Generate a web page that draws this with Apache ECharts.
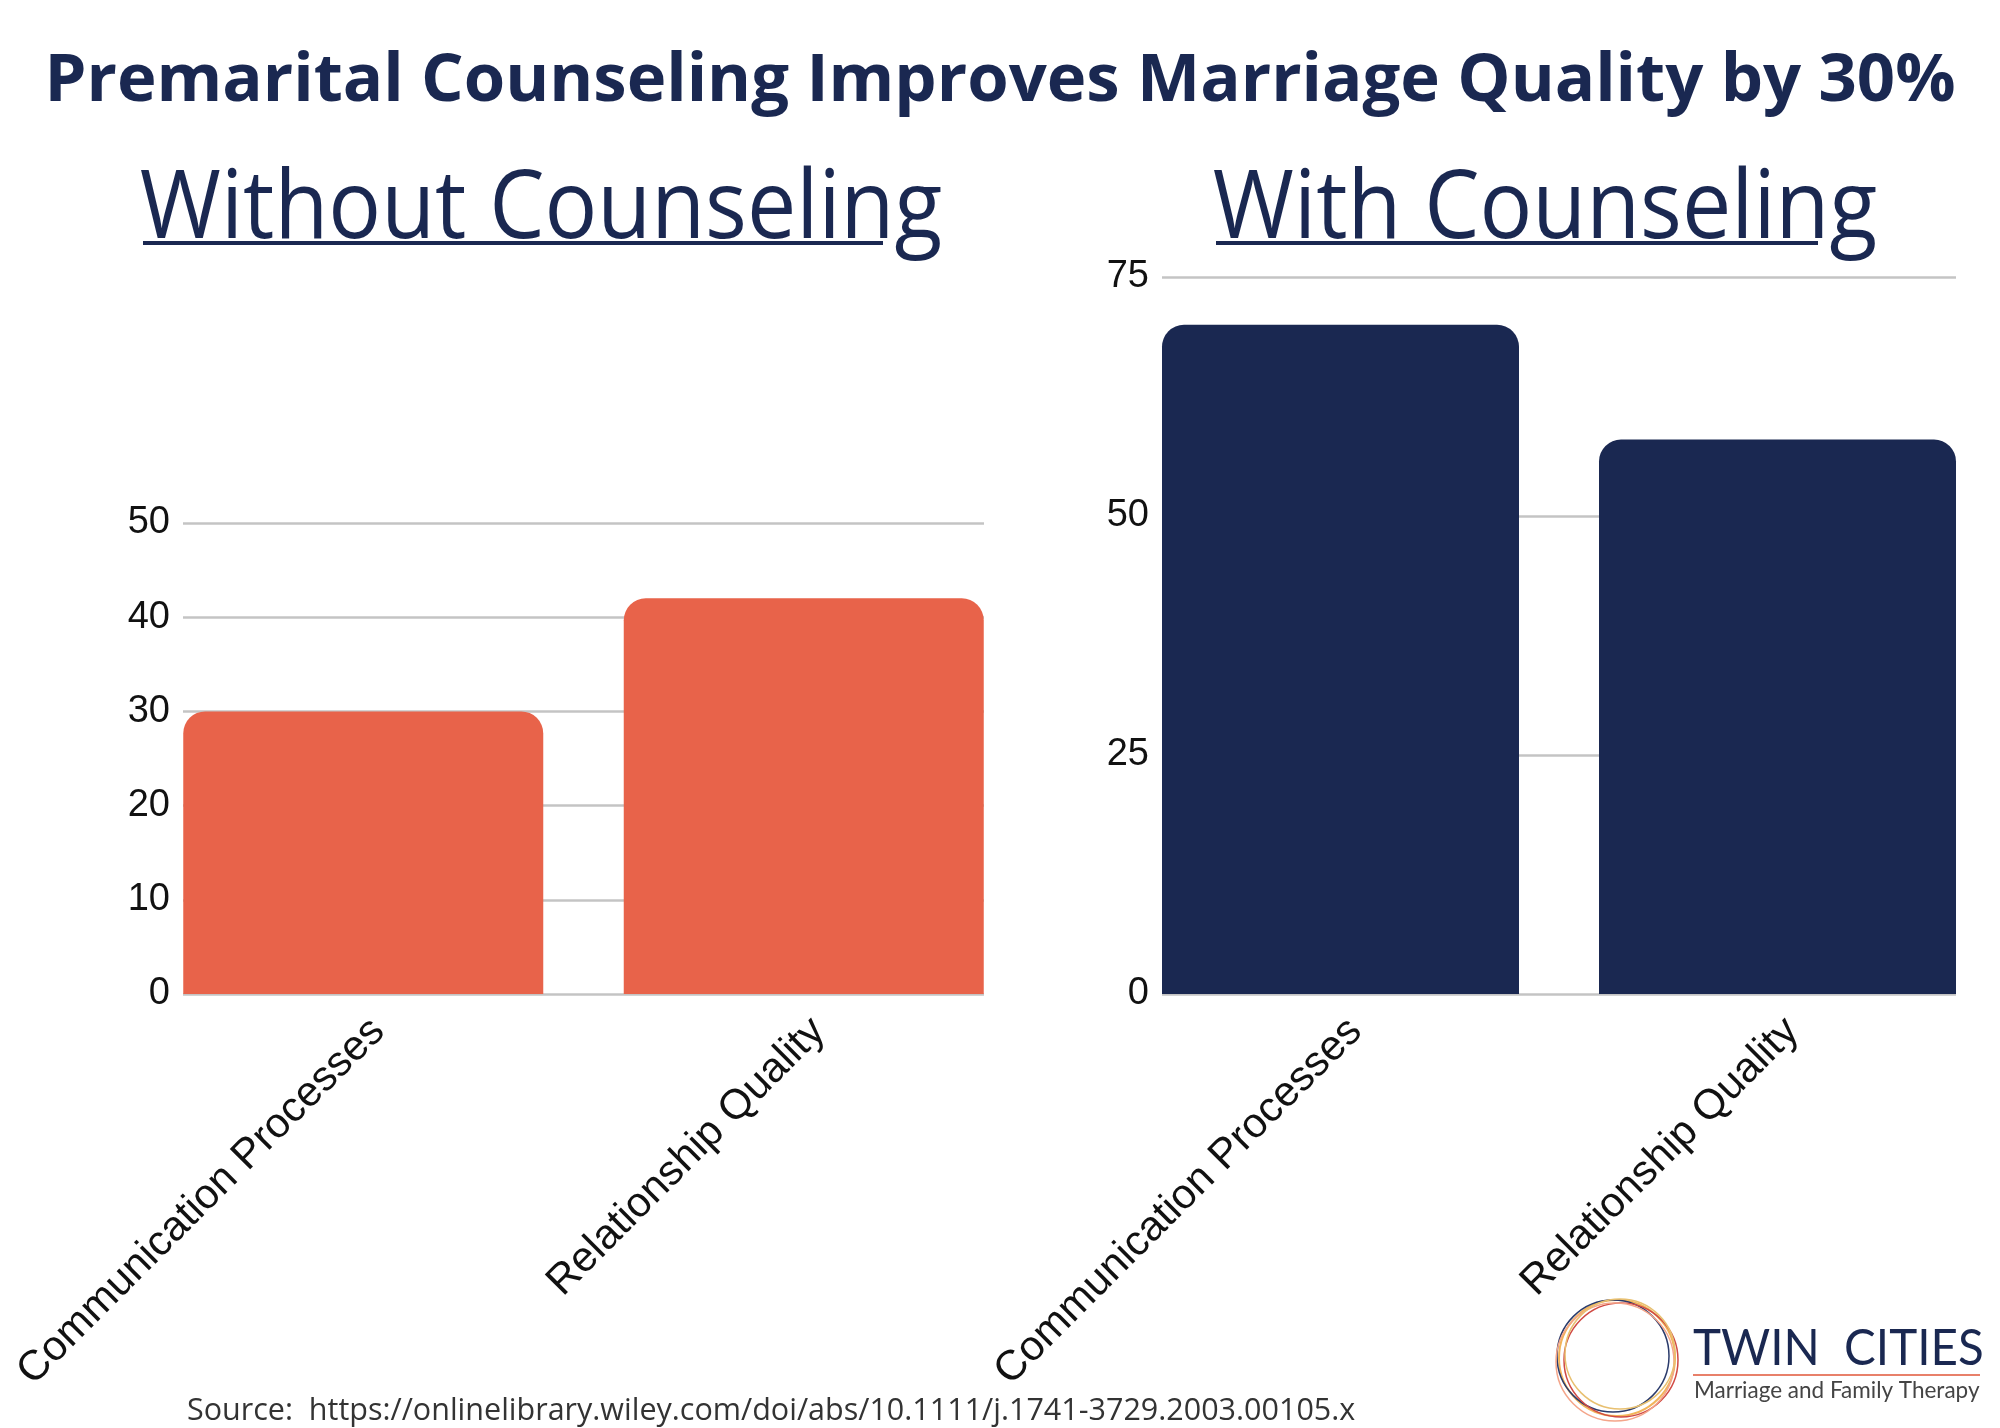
<!DOCTYPE html>
<html>
<head>
<meta charset="utf-8">
<script src="https://cdn.jsdelivr.net/npm/echarts@6/dist/echarts.min.js"></script>
<style>
html,body{margin:0;padding:0;background:#fff;}
#chart{width:2000px;height:1428px;}
</style>
</head>
<body>
<div id="chart"></div>
<script>
// ---- data ----
const categories = ['Communication Processes', 'Relationship Quality'];
const withoutValues = [30, 42];
const withValues = [70, 58];
const leftAxis = { min: 0, max: 50, interval: 10 };
const rightAxis = { min: 0, max: 75, interval: 25 };
const titleText = 'Premarital Counseling Improves Marriage Quality by 30%';
const leftTitle = 'Without Counseling';
const rightTitle = 'With Counseling';
const sourceText = 'Source:  https://onlinelibrary.wiley.com/doi/abs/10.1111/j.1741-3729.2003.00105.x';

const NAVY = '#1a2851';
const ORANGE = '#e8634a';

const chart = echarts.init(document.getElementById('chart'), null, { renderer: 'canvas' });

function valueAxis(grid, ax, visible) {
  if (!visible) {
    return { gridIndex: grid, type: 'value', min: ax.min, max: ax.max, interval: ax.interval, show: false };
  }
  return {
    gridIndex: grid, type: 'value', min: ax.min, max: ax.max, interval: ax.interval,
    axisLine: { show: false }, axisTick: { show: false },
    axisLabel: { fontFamily: 'Liberation Sans', fontSize: 38, color: '#111', margin: 13 },
    splitLine: { lineStyle: { color: '#c4c4c4', width: 2.5 } }
  };
}
function labelAxis(grid) {
  return {
    gridIndex: grid, type: 'category', data: categories,
    axisLine: { show: false }, axisTick: { show: false },
    axisLabel: { rotate: 45, interval: 0, fontFamily: 'Liberation Sans', fontSize: 42, color: '#111',
      margin: 16, align: 'right', verticalAlign: 'top' }
  };
}

function txt(text, x, y, font, fill, align, valign, scaleX) {
  return {
    type: 'text', x: x, y: y, scaleX: scaleX || 1, originX: 0, originY: 0,
    style: { text: text, x: 0, y: 0, font: font, fill: fill,
      textAlign: align, textVerticalAlign: valign, align: align, verticalAlign: valign }
  };
}

const option = {
  animation: false,
  backgroundColor: '#ffffff',
  grid: [
    { left: 183, width: 801, top: 523, height: 471 },
    { left: 143, width: 881, top: 523, height: 471 },
    { left: 1162, width: 794, top: 277, height: 717 },
    { left: 1122, width: 874, top: 277, height: 717 }
  ],
  xAxis: [
    { gridIndex: 0, type: 'category', data: categories, show: false },
    labelAxis(1),
    { gridIndex: 2, type: 'category', data: categories, show: false },
    labelAxis(3)
  ],
  yAxis: [
    valueAxis(0, leftAxis, true),
    valueAxis(1, leftAxis, false),
    valueAxis(2, rightAxis, true),
    valueAxis(3, rightAxis, false)
  ],
  series: [
    { type: 'bar', xAxisIndex: 1, yAxisIndex: 1, data: withoutValues, barWidth: 360,
      itemStyle: { color: ORANGE, borderRadius: [22, 22, 0, 0] } },
    { type: 'bar', xAxisIndex: 3, yAxisIndex: 3, data: withValues, barWidth: 357,
      itemStyle: { color: NAVY, borderRadius: [22, 22, 0, 0] } }
  ],
  graphic: [
    txt(titleText, 1000, 82, 'bold 67px "Open Sans"', NAVY, 'center', 'middle'),
    txt(leftTitle, 541, 259, '96px "Open Sans"', NAVY, 'center', 'bottom', 0.915),
    { type: 'line', shape: { x1: 143, y1: 243, x2: 883, y2: 243 }, style: { stroke: NAVY, lineWidth: 4 } },
    txt(rightTitle, 1545, 259, '96px "Open Sans"', NAVY, 'center', 'bottom', 0.915),
    { type: 'line', shape: { x1: 1216, y1: 243, x2: 1818, y2: 243 }, style: { stroke: NAVY, lineWidth: 4 } },
    txt(sourceText, 187, 1411, '30.5px "Open Sans"', '#333', 'left', 'middle'),
    // logo
    { type: 'circle', shape: { cx: 1617, cy: 1358, r: 58 }, style: { fill: 'none', stroke: '#f2b45a', lineWidth: 2 } },
    { type: 'circle', shape: { cx: 1613, cy: 1356, r: 56 }, style: { fill: 'none', stroke: '#2b3b6b', lineWidth: 1.5 } },
    { type: 'circle', shape: { cx: 1621, cy: 1360, r: 57 }, style: { fill: 'none', stroke: '#d04a44', lineWidth: 1.5 } },
    { type: 'circle', shape: { cx: 1615, cy: 1362, r: 59 }, style: { fill: 'none', stroke: '#f4a58a', lineWidth: 1.5 } },
    { type: 'circle', shape: { cx: 1620, cy: 1354, r: 55 }, style: { fill: 'none', stroke: '#e8c070', lineWidth: 1.5 } },
    txt('TWIN  CITIES', 1693, 1349, '50px Lato', NAVY, 'left', 'middle', 0.95),
    { type: 'line', shape: { x1: 1693, y1: 1375, x2: 1980, y2: 1375 }, style: { stroke: '#e8806a', lineWidth: 2 } },
    txt('Marriage and Family Therapy', 1694, 1391, '22.5px Lato', '#444', 'left', 'middle')
  ]
};
chart.setOption(option);
</script>
</body>
</html>
